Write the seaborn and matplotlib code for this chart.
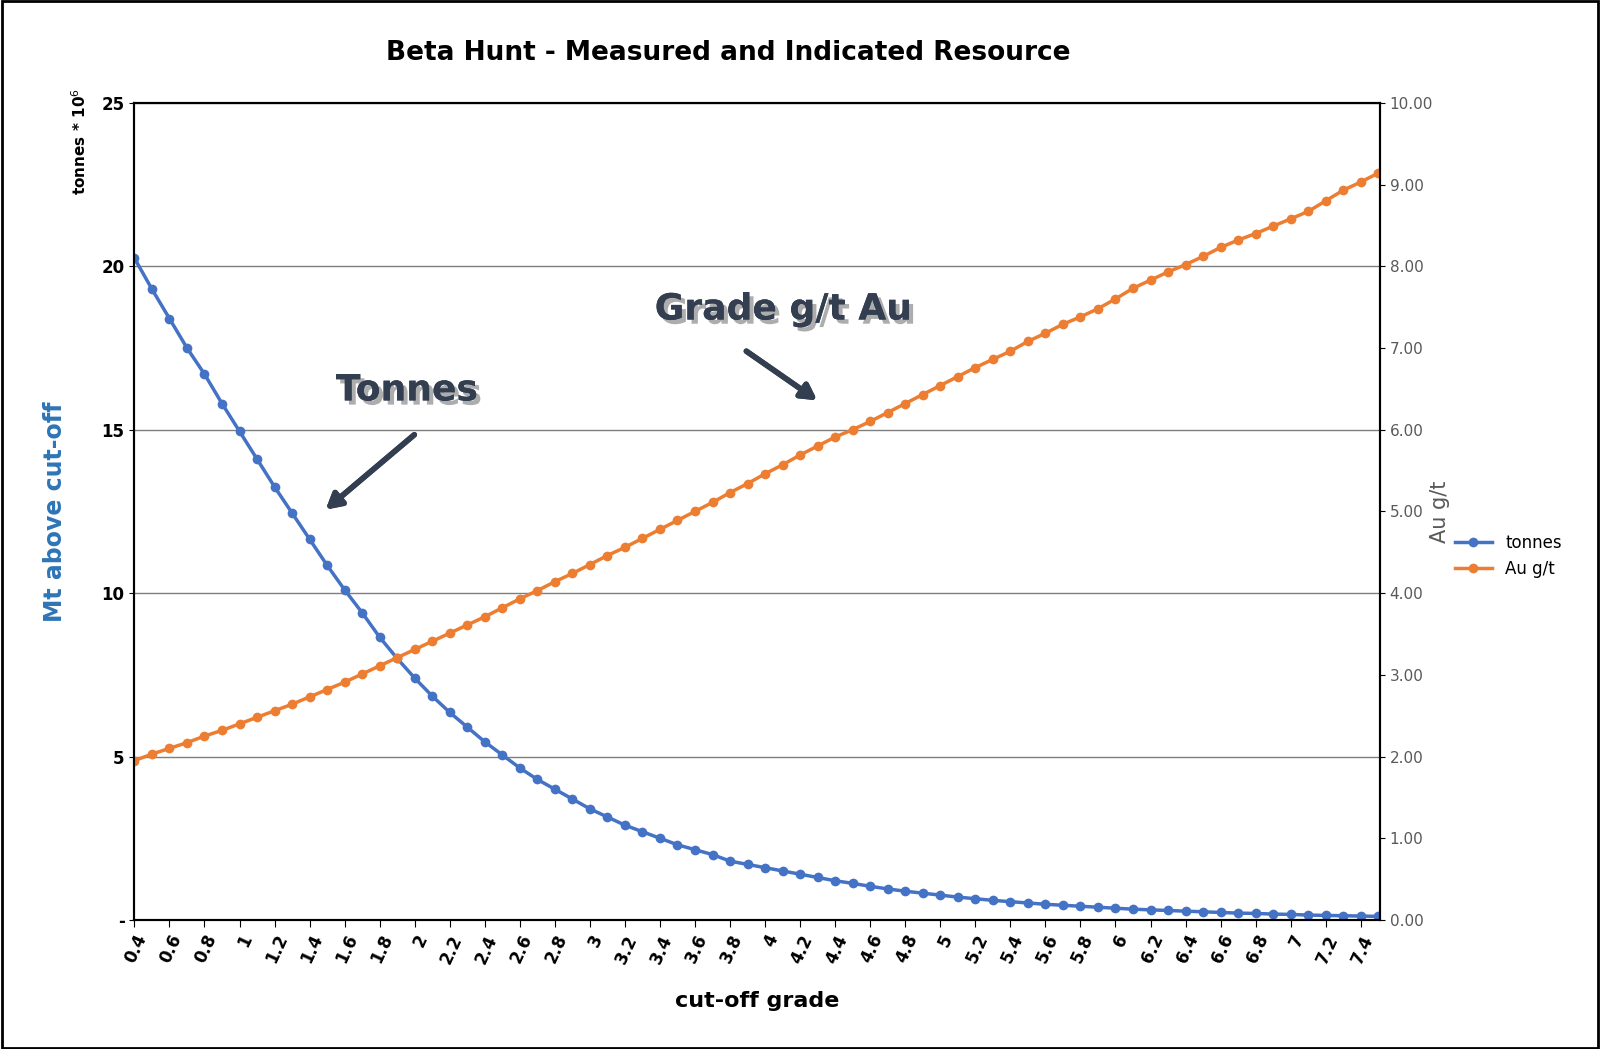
import numpy as np
import pandas as pd
import matplotlib
matplotlib.use('Agg')
import matplotlib.pyplot as plt
import matplotlib.patheffects as pe
import seaborn as sns

cutoff = [round(0.4 + 0.1 * i, 1) for i in range(72)]
tonnes = [20.25, 19.3, 18.4, 17.5, 16.7, 15.8, 14.95, 14.1, 13.25, 12.45, 11.65, 10.85,
          10.1, 9.4, 8.65, 8.0, 7.4, 6.85, 6.35, 5.9, 5.45, 5.05, 4.65, 4.3, 4.0, 3.7,
          3.4, 3.15, 2.9, 2.7, 2.5, 2.3, 2.15, 2.0, 1.8, 1.7, 1.6, 1.5, 1.4, 1.3, 1.2,
          1.12, 1.03, 0.95, 0.88, 0.82, 0.76, 0.70, 0.65, 0.60, 0.56, 0.52, 0.48, 0.45,
          0.42, 0.39, 0.36, 0.33, 0.31, 0.29, 0.27, 0.25, 0.23, 0.21, 0.20, 0.18, 0.17,
          0.15, 0.14, 0.13, 0.12, 0.11]
grade = [1.95, 2.03, 2.10, 2.17, 2.25, 2.32, 2.40, 2.48, 2.56, 2.64, 2.73, 2.82, 2.91,
         3.01, 3.11, 3.21, 3.31, 3.41, 3.51, 3.61, 3.71, 3.82, 3.93, 4.03, 4.14, 4.24,
         4.35, 4.46, 4.56, 4.67, 4.78, 4.89, 5.00, 5.11, 5.23, 5.34, 5.46, 5.57, 5.69,
         5.80, 5.91, 6.00, 6.10, 6.21, 6.32, 6.43, 6.54, 6.65, 6.76, 6.86, 6.96, 7.08,
         7.18, 7.29, 7.38, 7.48, 7.60, 7.73, 7.83, 7.93, 8.02, 8.12, 8.23, 8.32, 8.40,
         8.49, 8.58, 8.67, 8.80, 8.93, 9.03, 9.14]
xticks = [round(0.4 + 0.2 * i, 1) for i in range(36)]

df = pd.DataFrame({'cutoff': cutoff, 'tonnes': tonnes, 'grade': grade})
blue = '#4472C4'
orange = '#ED7D31'

fig = plt.figure(figsize=(16, 10.49), dpi=100)
ax = fig.add_axes([0.084, 0.123, 0.7785, 0.779])
ax2 = ax.twinx()

sns.lineplot(data=df, x='cutoff', y='tonnes', ax=ax, color=blue, lw=2.5,
             marker='o', markersize=7, markeredgewidth=0, label='tonnes', legend=False)
sns.lineplot(data=df, x='cutoff', y='grade', ax=ax2, color=orange, lw=2.5,
             marker='o', markersize=7, markeredgewidth=0, label='Au g/t', legend=False)

ax.set_xlim(0.4, 7.51)
ax.set_ylim(0, 25)
ax2.set_ylim(0, 10)
ax.set_yticks([0, 5, 10, 15, 20, 25])
ax.set_yticklabels(['-', '5', '10', '15', '20', '25'], fontsize=12, fontweight='bold')
ax2.set_yticks(np.arange(0, 10.01, 1))
ax2.set_yticklabels([f'{v:.2f}' for v in np.arange(0, 10.01, 1)], fontsize=11, color='#595959')
ax.set_xticks(xticks)
ax.set_xticklabels([f'{v:g}' for v in xticks], rotation=65, ha='right',
                   rotation_mode='anchor', fontsize=12, fontweight='bold')
ax.grid(axis='y', color='#7f7f7f', lw=1)
ax.set_axisbelow(True)
for a in (ax, ax2):
    for s in a.spines.values():
        s.set_color('black')
        s.set_linewidth(1.5)
ax.tick_params(axis='x', length=5)
ax.set_xlabel('cut-off grade', fontsize=16, fontweight='bold', labelpad=18)
ax.set_ylabel('Mt above cut-off', fontsize=17, fontweight='bold', color='#2E75B6', labelpad=25)
ax2.set_ylabel('Au g/t', fontsize=15, color='#595959', labelpad=8)
ax2.yaxis.set_label_coords(1.04, 0.5)
fig.text(0.05, 0.865, 'tonnes * 10$^{6}$', rotation=90, fontsize=11, fontweight='bold',
         ha='center', va='center')

fig.suptitle('Beta Hunt - Measured and Indicated Resource', x=0.455, y=0.962,
             fontsize=19, fontweight='bold')

shadow = [pe.withSimplePatchShadow(offset=(3, -3), shadow_rgbFace='#999999', alpha=0.8), pe.Normal()]
ax.text(1.55, 16.2, 'Tonnes', fontsize=26, fontweight='heavy', color='#333F50',
        va='center', path_effects=shadow)
ax2.text(3.37, 7.47, 'Grade g/t Au', fontsize=26, fontweight='heavy', color='#333F50',
         va='center', path_effects=shadow)
arrow = dict(arrowstyle='-|>,head_width=0.5,head_length=0.9', color='#333F50', lw=4,
             path_effects=[pe.withSimplePatchShadow(offset=(2, -2), shadow_rgbFace='#999999'), pe.Normal()])
ax.annotate('', xy=(1.48, 12.5), xytext=(2.01, 14.9), arrowprops=arrow)
ax2.annotate('', xy=(4.31, 6.34), xytext=(3.88, 6.98), arrowprops=arrow)

h1, l1 = ax.get_legend_handles_labels()
h2, l2 = ax2.get_legend_handles_labels()
fig.legend(h1 + h2, l1 + l2, loc='center left', bbox_to_anchor=(0.9, 0.47),
           frameon=False, fontsize=12, handlelength=2.2)

fig.patches.append(plt.Rectangle((0.001, 0.001), 0.998, 0.998, transform=fig.transFigure,
                                 fill=False, edgecolor='black', lw=2))
fig.savefig('out.png', dpi=100)
